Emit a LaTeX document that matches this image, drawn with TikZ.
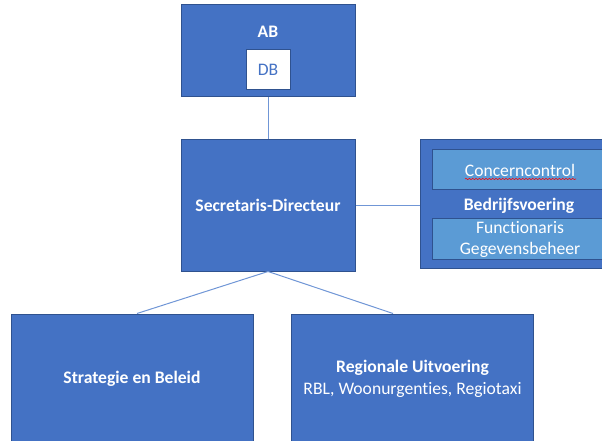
\documentclass[tikz,border=0pt]{standalone}
\usepackage{fontspec}
\setmainfont[Ligatures=NoCommon]{Carlito}
\usetikzlibrary{decorations.pathmorphing}
\definecolor{officeblue}{HTML}{4472C4}
\definecolor{darkedge}{HTML}{2F528F}
\definecolor{lightunit}{HTML}{5B9BD5}
\definecolor{linkblue}{HTML}{7096D6}

\begin{document}
\begin{tikzpicture}[x=0.75pt,y=-0.75pt,
	unit/.style={draw=darkedge, fill=officeblue, line width=0.75pt, text=white, align=center, inner sep=0pt, font=\fontsize{13.2}{16}\selectfont},
	subunit/.style={unit, fill=lightunit},
	link/.style={draw=linkblue, line width=0.75pt}]
	\useasboundingbox (0,0) rectangle (602,441);
	\clip (0,0) rectangle (602,441);
	% top
	\node (ab) [unit, minimum width=130.5pt, minimum height=69pt] at (268,51) {};
	\node (abtxt) [unit, draw=none, fill=none] at (268,32) {\textbf{AB}};
	\node (db) [unit, fill=white, text=officeblue, minimum width=33pt, minimum height=30pt] at (268,70) {DB};
	% middle
	\node (sd) [unit, minimum width=130.5pt, minimum height=98.25pt] at (268,205.5) {\textbf{Secretaris-Directeur}};
	\node (bv) [unit, minimum width=150pt, minimum height=96pt] at (520,204) {};
	\node (cc) [subunit, minimum width=132pt, minimum height=30pt] at (520,170) {Concerncontrol};
	\node (bvtxt) [unit, draw=none, fill=none] at (519,206) {\textbf{Bedrijfsvoering}};
	\node (fg) [subunit, minimum width=132pt, minimum height=30.75pt] at (520,239.5) {Functionaris\\Gegevensbeheer};
	\draw[red, line width=0.4pt, decorate, decoration={snake, amplitude=0.5pt, segment length=2.5pt}] ([shift={(-55,9)}]cc.center) -- ([shift={(56,9)}]cc.center);
	% bottom
	\node (sb) [unit, minimum width=181.5pt, minimum height=97.5pt] at (132,379) {\textbf{Strategie en Beleid}};
	\node (ru) [unit, minimum width=181.5pt, minimum height=97.5pt] at (412.5,379) {\textbf{Regionale Uitvoering}\\RBL, Woonurgenties, Regiotaxi};
	\draw[link] (ab) -- (sd);
	\draw[link] (sd.east) -- (sd.east -| bv.west);
	\draw[link] (sd.south) -- ([xshift=3.75pt]sb.north);
	\draw[link] (sd.south) -- ([xshift=-14.6pt]ru.north);
\end{tikzpicture}
\end{document}
